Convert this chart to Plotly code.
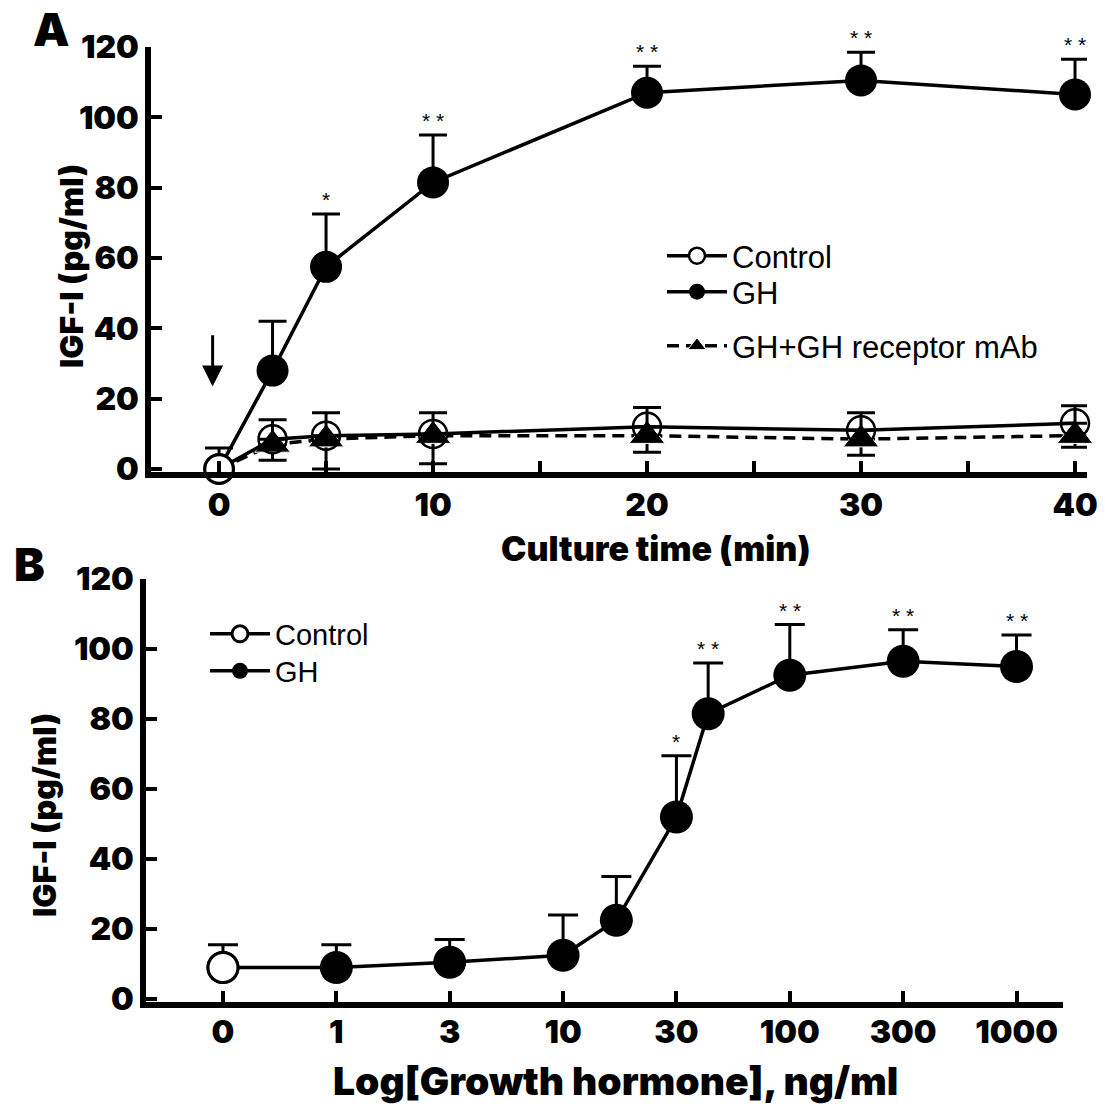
import plotly.graph_objects as go

# ---------------- Panel A data (culture time, min) ----------------
a_time = [0, 2.5, 5, 10, 20, 30, 40]
a_control = [0, 8.5, 9.5, 10, 12, 11, 13]
a_control_err = [6, 5.5, 6.5, 6, 5.5, 5, 5]
a_gh = [0, 28, 57.5, 81.5, 107, 110.5, 106.5]
a_gh_err = [None, 14, 15, 13.5, 7.5, 8, 10]
a_mab = [0, 7, 8.5, 9.5, 9.5, 8.5, 9.5]
a_mab_err_minus = [None, 4.5, 8.5, 8, 4.7, 4.6, 3.3]
a_gh_sig = ["", "", "*", "* *", "* *", "* *", "* *"]
a_xtick_vals = [0, 5, 10, 15, 20, 25, 30, 35, 40]
a_xtick_text = ["0", "", "10", "", "20", "", "30", "", "40"]
a_arrow_x = -0.3
a_arrow_from, a_arrow_to = 38.5, 23.5

# ---------------- Panel B data (growth hormone dose) ----------------
b_xtick_vals = [0, 1, 2, 3, 4, 5, 6, 7]
b_xtick_text = ["0", "1", "3", "10", "30", "100", "300", "1000"]
b_control_x = [0]
b_control = [9]
b_control_err = [6.5]
b_gh_x = [0, 1, 2, 3, 3.47, 4, 4.28, 5, 6, 7]
b_gh = [9, 9, 10.5, 12.5, 22.5, 52, 81.5, 92.5, 96.5, 95]
b_gh_err = [None, 6.5, 6.5, 11.5, 12.5, 17.5, 14.5, 14.5, 9, 9]
b_gh_sig = ["", "", "", "", "", "*", "* *", "* *", "* *", "* *"]

y_ticks = [0, 20, 40, 60, 80, 100, 120]

HEAVY = dict(family="Inter, DejaVu Sans, sans-serif", weight=900, color="black")
REG = "Liberation Sans, Arial, sans-serif"

fig = go.Figure()

# ---- Panel A traces ----
fig.add_trace(go.Scatter(
    x=a_time, y=a_gh, mode="lines+markers", name="GH",
    line=dict(color="black", width=3.5),
    marker=dict(symbol="circle", size=32, color="black", opacity=1),
    error_y=dict(type="data", array=a_gh_err, symmetric=False, arrayminus=[0]*len(a_gh),
                 color="black", thickness=3, width=14),
    xaxis="x", yaxis="y", legend="legend3", cliponaxis=False))
fig.add_trace(go.Scatter(
    x=a_time, y=a_mab, mode="lines+markers", name="GH+GH receptor mAb",
    line=dict(color="black", width=3.5, dash="12px,7px"),
    marker=dict(symbol="triangle-up", size=[0] + [31]*(len(a_mab)-1), color="black", opacity=1),
    error_y=dict(type="data", array=[0]*len(a_mab), symmetric=False, arrayminus=a_mab_err_minus,
                 color="black", thickness=3, width=14),
    xaxis="x", yaxis="y", legend="legend4", cliponaxis=False))
fig.add_trace(go.Scatter(
    x=a_time, y=a_control, mode="lines+markers", name="Control",
    line=dict(color="black", width=3.5),
    marker=dict(symbol="circle", size=28, opacity=1,
                color=["white"] + ["rgba(255,255,255,0)"]*(len(a_control)-1),
                line=dict(color="black", width=2.5)),
    error_y=dict(type="data", array=a_control_err, symmetric=False, arrayminus=[0]*len(a_control),
                 color="black", thickness=3, width=14),
    xaxis="x", yaxis="y", legend="legend", cliponaxis=False))

# ---- Panel B traces ----
fig.add_trace(go.Scatter(
    x=b_gh_x, y=b_gh, mode="lines+markers", name="GH",
    line=dict(color="black", width=3.5),
    marker=dict(symbol="circle", size=33, color="black", opacity=1),
    error_y=dict(type="data", array=b_gh_err, symmetric=False, arrayminus=[0]*len(b_gh),
                 color="black", thickness=3, width=15),
    xaxis="x2", yaxis="y2", legend="legend5", cliponaxis=False))
fig.add_trace(go.Scatter(
    x=b_control_x, y=b_control, mode="lines+markers", name="Control",
    line=dict(color="black", width=3.5),
    marker=dict(symbol="circle", size=30, color="white", opacity=1, line=dict(color="black", width=3)),
    error_y=dict(type="data", array=b_control_err, symmetric=False, arrayminus=[0],
                 color="black", thickness=3, width=15),
    xaxis="x2", yaxis="y2", legend="legend2", cliponaxis=False))

annotations = []
star_font = dict(family=REG, size=21, color="black")
for x, y, e, s in zip(a_time, a_gh, a_gh_err, a_gh_sig):
    if s:
        annotations.append(dict(x=x, y=y + e, xref="x", yref="y", text=s, showarrow=False,
                                xanchor="center", yanchor="bottom", yshift=1, font=star_font))
for x, y, e, s in zip(b_gh_x, b_gh, b_gh_err, b_gh_sig):
    if s:
        annotations.append(dict(x=x, y=y + e, xref="x2", yref="y2", text=s, showarrow=False,
                                xanchor="center", yanchor="bottom", yshift=1, font=star_font))
# arrow (GH addition)
annotations.append(dict(x=a_arrow_x, y=a_arrow_to, ax=a_arrow_x, ay=a_arrow_from,
                        xref="x", yref="y", axref="x", ayref="y", text="", showarrow=True,
                        arrowhead=2, arrowsize=1.4, arrowwidth=3, arrowcolor="black"))


def paper_text(px, py, text, size, angle=0):
    return dict(x=px/1105, y=1-py/1106, xref="paper", yref="paper", text=text, showarrow=False,
                xanchor="center", yanchor="middle", textangle=angle, font=dict(size=size, **HEAVY))


annotations += [
    paper_text(51, 29, "A", 46),
    paper_text(29, 564, "B", 46),
    paper_text(656, 549, "Culture time (min)", 34),
    paper_text(615, 1080, "Log[Growth hormone], ng/ml", 39),
    paper_text(72, 266, "IGF-I (pg/ml)", 32, -90),
    paper_text(44, 815, "IGF-I (pg/ml)", 32, -90),
]

axis_common = dict(showline=True, linecolor="black", linewidth=5.5, ticks="inside",
                   tickcolor="black", tickwidth=4, ticklen=11, showgrid=False, zeroline=False,
                   tickfont=dict(size=32, **HEAVY), mirror=False, automargin=False)


def legend_at(px, py, size=31):
    return dict(x=px/1105, y=1-py/1106, xanchor="left", yanchor="middle", bgcolor="rgba(0,0,0,0)",
                font=dict(family=REG, size=size, color="black"), itemwidth=60, itemsizing="trace")


fig.update_layout(
    width=1105, height=1106, margin=dict(l=0, r=0, t=0, b=0, autoexpand=False),
    paper_bgcolor="white", plot_bgcolor="white", showlegend=True,
    xaxis=dict(domain=[151/1105, 1087/1105], range=[-3.18, 40.56], anchor="y",
               tickmode="array", tickvals=a_xtick_vals, ticktext=a_xtick_text,
               ticklabelstandoff=0, **axis_common),
    yaxis=dict(domain=[1-472/1106, 1-47/1106], range=[-0.84, 120], anchor="x",
               tickmode="array", tickvals=y_ticks, **axis_common),
    xaxis2=dict(domain=[146/1105, 1063/1105], range=[-0.679, 7.41], anchor="y2",
                tickmode="array", tickvals=b_xtick_vals, ticktext=b_xtick_text,
                ticklabelstandoff=-3, **axis_common),
    yaxis2=dict(domain=[1-1002/1106, 1-579/1106], range=[-0.85, 120], anchor="x2",
                tickmode="array", tickvals=y_ticks, **axis_common),
    legend=legend_at(662, 256),
    legend3=legend_at(662, 292),
    legend4=legend_at(662, 346),
    legend2=legend_at(205, 634, 29),
    legend5=legend_at(205, 671, 29),
    annotations=annotations,
)

fig.write_html("out.html")
